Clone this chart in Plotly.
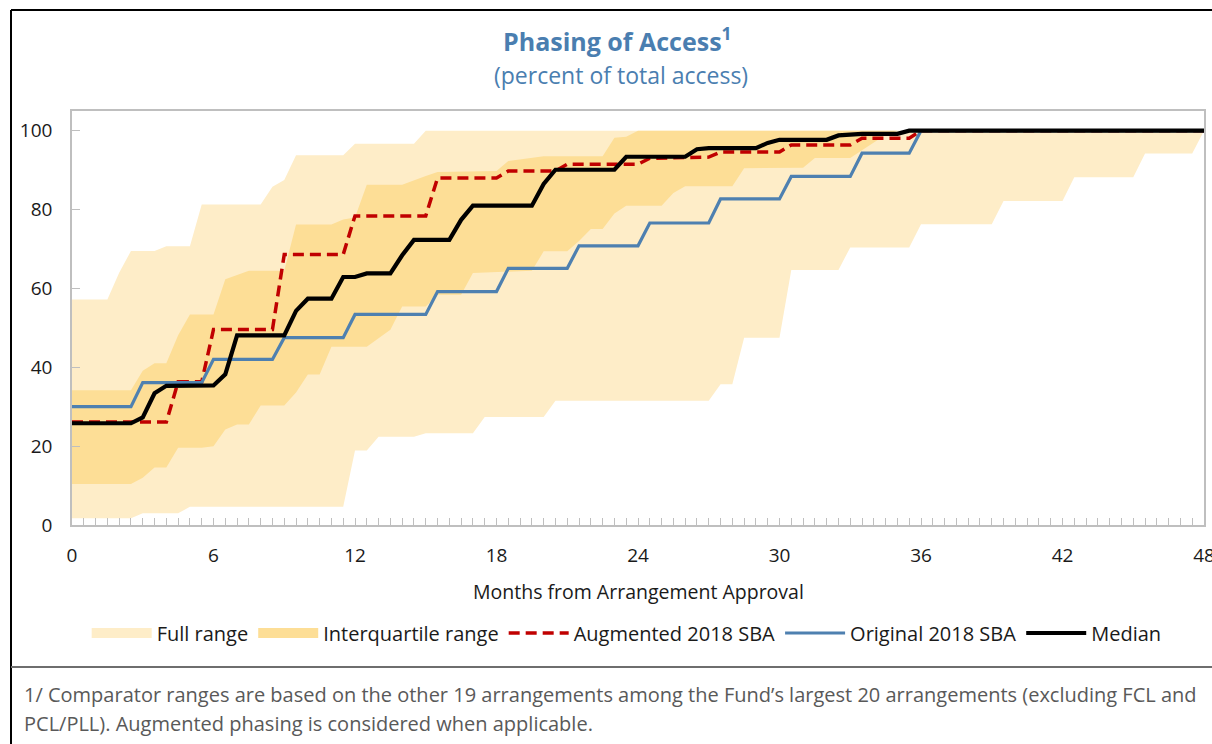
import plotly.graph_objects as go

# ---------------- data (months from approval, percent of total access) -------------
full_upper_x = [0, 1.5, 2, 2.5, 3.5, 4, 5, 5.5, 8, 8.5, 9, 9.5, 11.5, 12, 14.5, 15, 48]
full_upper_y = [57.2, 57.2, 64, 69.5, 69.5, 70.7, 70.7, 81.3, 81.3, 85.8, 87.5, 93.8, 93.8, 96.7, 96.7, 100, 100]
full_lower_x = [0, 2.5, 3, 4.5, 5, 11.5, 12, 12.5, 13, 14.5, 15, 17, 17.5, 20, 20.5, 27, 27.5, 28, 28.5,
                30, 30.5, 32.5, 33, 35.5, 36, 39, 39.5, 42, 42.5, 45, 45.5, 47.5, 48]
full_lower_y = [1.7, 1.7, 3.0, 3.0, 4.6, 4.6, 18.9, 18.9, 22.4, 22.4, 23.3, 23.3, 27.4, 27.4, 31.5, 31.5, 35.7,
                35.7, 47.5, 47.5, 64.7, 64.7, 70.4, 70.4, 76.3, 76.3, 82.2, 82.2, 88.2, 88.2, 94.2, 94.2, 100]

iqr_upper_x = [0, 2.5, 3, 3.5, 4, 4.5, 5, 6, 6.5, 7, 7.5, 9, 9.5, 11, 11.5, 12, 12.5, 14, 14.5, 15, 15.5,
               18, 18.5, 20, 22.5, 23, 23.5, 24, 48]
iqr_upper_y = [34.2, 34.2, 39.1, 41.0, 41.0, 48.1, 53.4, 53.4, 62.3, 63.5, 64.5, 64.5, 76.2, 76.2, 77.5, 78.0,
               86.3, 86.3, 87.3, 88.5, 89.5, 89.8, 92.3, 93.5, 93.5, 98.2, 98.5, 100, 100]
iqr_lower_x = [0, 2.5, 3, 3.5, 4, 4.5, 5.5, 6, 6.5, 7, 7.5, 8, 9, 9.5, 10, 10.5, 11, 12.5, 13, 13.5, 14, 15,
               15.5, 16.5, 17, 19.5, 20, 21, 21.5, 22, 22.5, 23, 23.5, 25, 25.5, 26, 28, 28.5, 31, 31.5, 33,
               34, 34.5, 35, 48]
iqr_lower_y = [10.4, 10.4, 12.0, 14.6, 14.6, 19.6, 19.6, 20.0, 24.2, 25.5, 25.5, 30.3, 30.3, 33.6, 38.2, 38.2,
               45.2, 45.2, 47.4, 49.5, 55.4, 55.4, 58.4, 58.4, 63.9, 64.5, 69.4, 69.4, 72.0, 75.1, 75.1, 79.0,
               81.0, 81.0, 84.2, 85.9, 85.9, 90.5, 90.6, 93.1, 93.1, 97.0, 99.0, 100, 100]

aug_x = [0, 4, 4.5, 5.5, 6, 8.5, 9, 11.5, 12, 15, 15.5, 18, 18.5, 20.5, 21, 24, 24.5, 27, 27.5, 30, 30.5,
         33, 33.5, 35.5, 36, 48]
aug_y = [26.1, 26.1, 36.3, 36.3, 49.6, 49.6, 68.6, 68.6, 78.4, 78.4, 88.0, 88.0, 89.8, 89.8, 91.5, 91.5,
         93.0, 93.3, 94.6, 94.6, 96.4, 96.4, 98.1, 98.1, 100, 100]

orig_x = [0, 2.5, 3, 5.5, 6, 8.5, 9, 11.5, 12, 15, 15.5, 18, 18.5, 21, 21.5, 24, 24.5, 27, 27.5, 30, 30.5,
          33, 33.5, 35.5, 36, 48]
orig_y = [30.0, 30.0, 36.1, 36.1, 42.0, 42.0, 47.5, 47.5, 53.4, 53.4, 59.2, 59.2, 65.1, 65.1, 70.8, 70.8,
          76.6, 76.6, 82.7, 82.7, 88.4, 88.4, 94.3, 94.3, 100, 100]

med_x = [0, 2.5, 3, 3.5, 4, 6, 6.5, 7, 9, 9.5, 10, 11, 11.5, 12, 12.5, 13.5, 14, 14.5, 16, 16.5, 17, 19.5,
         20, 20.5, 23, 23.5, 26, 26.5, 27, 29, 29.5, 30, 32, 32.5, 33.5, 35, 35.5, 48]
med_y = [25.8, 25.8, 27.3, 33.4, 35.3, 35.4, 38.2, 48.1, 48.1, 54.3, 57.4, 57.4, 62.9, 62.9, 63.8, 63.8,
         68.4, 72.3, 72.3, 77.4, 81.0, 81.0, 86.5, 90.1, 90.1, 93.4, 93.4, 95.3, 95.6, 95.6, 96.9, 97.7,
         97.7, 98.8, 99.2, 99.2, 100, 100]

x_ticks = [0, 6, 12, 18, 24, 30, 36, 42, 48]
y_ticks = [0, 20, 40, 60, 80, 100]

# ---------------- styles -------------
FONT = "Open Sans"
LIGHT = "#FEEDC8"
DARK = "#FDDE96"
RED = "#C00000"
BLUE = "#4E80B0"
TITLE_BLUE = "#4A7EB0"
AXIS_GRAY = "#BFBFBF"
TXT = "#1A1A1A"

fig = go.Figure()

# filled ranges (legend handled by legend-only entries below)
fig.add_trace(go.Scatter(
    x=full_upper_x + full_lower_x[::-1], y=full_upper_y + full_lower_y[::-1],
    fill="toself", fillcolor=LIGHT, line=dict(width=0, color=LIGHT),
    mode="lines", name="Full range", showlegend=False, hoverinfo="skip"))
fig.add_trace(go.Scatter(
    x=iqr_upper_x + iqr_lower_x[::-1], y=iqr_upper_y + iqr_lower_y[::-1],
    fill="toself", fillcolor=DARK, line=dict(width=0, color=DARK),
    mode="lines", name="Interquartile range", showlegend=False, hoverinfo="skip"))
# legend swatches for the ranges
fig.add_trace(go.Scatter(x=[None], y=[None], mode="lines", name="Full range",
                         line=dict(color=LIGHT, width=18)))
fig.add_trace(go.Scatter(x=[None], y=[None], mode="lines", name="Interquartile range",
                         line=dict(color=DARK, width=18)))

fig.add_trace(go.Scatter(x=aug_x, y=aug_y, mode="lines", name="Augmented 2018 SBA",
                         line=dict(color=RED, width=3.5, dash="11px,6px")))
fig.add_trace(go.Scatter(x=orig_x, y=orig_y, mode="lines", name="Original 2018 SBA",
                         line=dict(color=BLUE, width=3.2)))
fig.add_trace(go.Scatter(x=med_x, y=med_y, mode="lines", name="Median",
                         line=dict(color="black", width=4.2)))

L, R, T, B = 72, 8, 111, 219
W, H = 1212, 744
pw, ph = W - L - R, H - T - B


def px(xp):
    return (xp - L) / pw


def py(yp):
    return (H - B - yp) / ph


fig.update_layout(
    width=W, height=H,
    margin=dict(l=L, r=R, t=T, b=B, autoexpand=False),
    paper_bgcolor="white", plot_bgcolor="white",
    font=dict(family=FONT, size=20, color=TXT),
    showlegend=True,
    legend=dict(orientation="h", x=0.49, xanchor="center", y=py(633), yanchor="middle",
                font=dict(size=20, color=TXT), itemwidth=60,
                bgcolor="rgba(0,0,0,0)", traceorder="normal"),
    xaxis=dict(range=[0, 48], tickvals=x_ticks, ticks="inside", ticklen=7, tickcolor=AXIS_GRAY,
               showgrid=False, zeroline=False, showline=True, linecolor=AXIS_GRAY, linewidth=1.5,
               mirror=True, ticklabelstandoff=12, ticklabeloverflow="allow", automargin=False,
               minor=dict(dtick=0.5, ticks="inside", ticklen=7, tickcolor=AXIS_GRAY, showgrid=False),
               tickfont=dict(size=19, color=TXT)),
    yaxis=dict(range=[0, 105], tickvals=y_ticks, ticks="inside", ticklen=8, tickcolor=AXIS_GRAY,
               showgrid=False, zeroline=False, showline=True, linecolor=AXIS_GRAY, linewidth=1.5,
               mirror=True, ticklabelstandoff=14, automargin=False, tickfont=dict(size=19, color=TXT)),
    annotations=[
        dict(text="<b>Phasing of Access<sup>1</sup></b>", x=px(617), y=py(40), xref="paper", yref="paper",
             showarrow=False, xanchor="center", yanchor="middle",
             font=dict(size=25, color=TITLE_BLUE, family=FONT)),
        dict(text="(percent of total access)", x=px(621), y=py(75), xref="paper", yref="paper",
             showarrow=False, xanchor="center", yanchor="middle",
             font=dict(size=23, color=TITLE_BLUE, family=FONT)),
        dict(text="Months from Arrangement Approval", x=px(638), y=py(591), xref="paper", yref="paper",
             showarrow=False, xanchor="center", yanchor="middle", font=dict(size=19.5, color=TXT)),
        dict(text="1/ Comparator ranges are based on the other 19 arrangements among the Fund\u2019s largest "
                  "20 arrangements (excluding FCL and",
             x=px(22), y=py(694), xref="paper", yref="paper", showarrow=False, xanchor="left",
             yanchor="middle", font=dict(size=20, color="#595959")),
        dict(text="PCL/PLL). Augmented phasing is considered when applicable.",
             x=px(22), y=py(723), xref="paper", yref="paper", showarrow=False, xanchor="left",
             yanchor="middle", font=dict(size=20, color="#595959")),
    ],
    shapes=[
        dict(type="line", xref="paper", yref="paper", x0=px(11), x1=px(W + 5), y0=py(10), y1=py(10),
             line=dict(color="black", width=2)),
        dict(type="line", xref="paper", yref="paper", x0=px(11), x1=px(11), y0=py(10), y1=py(H + 5),
             line=dict(color="black", width=2)),
        dict(type="line", xref="paper", yref="paper", x0=px(11), x1=px(W + 5), y0=py(667), y1=py(667),
             line=dict(color="#6E6E6E", width=2)),
    ],
)

fig.write_html("out.html", config={"displayModeBar": False},
               post_script="document.body.style.margin='0px';")
